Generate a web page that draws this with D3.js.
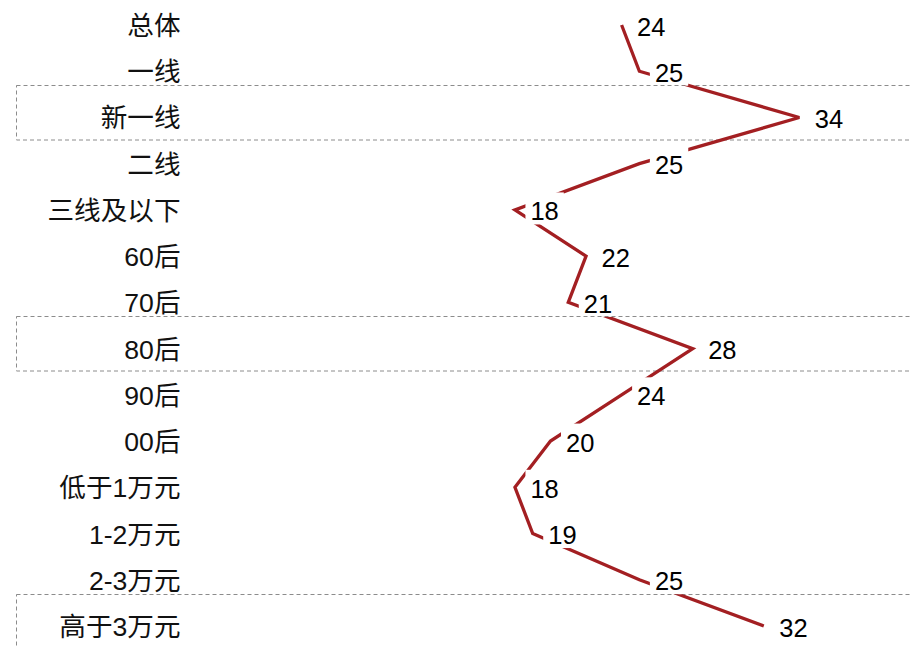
<!DOCTYPE html>
<html>
<head>
<meta charset="utf-8">
<script src="https://cdn.jsdelivr.net/npm/d3@7"></script>
<style>
  html, body { margin: 0; padding: 0; background: #fff; }
  svg { display: block; }
  text { font-family: "Liberation Sans", Arial, "Noto Sans CJK SC", sans-serif; }
</style>
</head>
<body>
<svg id="chart" width="912" height="647"></svg>
<script>
// ---- data ----
const categories = ["总体", "一线", "新一线", "二线", "三线及以下", "60后", "70后", "80后", "90后", "00后", "低于1万元", "1-2万元", "2-3万元", "高于3万元"];
const values = [24, 25, 34, 25, 18, 22, 21, 28, 24, 20, 18, 19, 25, 32];
const highlighted = ["新一线", "80后", "高于3万元"];

// ---- layout ----
const W = 912, H = 647;
const svg = d3.select("#chart");

const y = d3.scalePoint().domain(categories).range([25, 626]);
const x = d3.scaleLinear().domain([0, 40]).range([195, 906]);

const catFont = 26.6;
const valFont = 25.5;
const lineColor = "#a31f22";

const data = categories.map((c, i) => ({ cat: c, v: values[i] }));

// dashed highlight boxes
svg.append("g").selectAll("rect")
  .data(highlighted)
  .join("rect")
  .attr("x", 16.5)
  .attr("y", d => Math.round(y(d) - 32.5) + 0.5)
  .attr("width", 1000)
  .attr("height", 54.5)
  .attr("fill", "none")
  .attr("stroke", "#8c8c8c")
  .attr("stroke-width", 1)
  .attr("stroke-dasharray", "4,3");

// category labels
svg.append("g").selectAll("text")
  .data(data)
  .join("text")
  .attr("x", 180.5)
  .attr("y", d => y(d.cat) + 10)
  .attr("text-anchor", "end")
  .attr("font-size", catFont)
  .attr("fill", "#111")
  .text(d => d.cat);

// value labels (drawn first to measure widths)
const labelG = svg.append("g");
const labels = labelG.selectAll("text")
  .data(data)
  .join("text")
  .attr("x", d => x(d.v) + 15.5)
  .attr("y", d => y(d.cat) + 10.5)
  .attr("font-size", valFont)
  .attr("fill", "#000")
  .text(d => d3.format(".0f")(d.v));

// mask to knock the line out behind the labels
const defs = svg.append("defs");
const mask = defs.append("mask").attr("id", "lblMask")
  .attr("maskUnits", "userSpaceOnUse")
  .attr("x", 0).attr("y", 0).attr("width", W).attr("height", H);
mask.append("rect").attr("x", 0).attr("y", 0).attr("width", W).attr("height", H).attr("fill", "#fff");
labels.each(function(d) {
  const w = this.getComputedTextLength();
  const tx = x(d.v) + 15.5, by = y(d.cat) + 10.5;
  mask.append("rect")
    .attr("x", tx - 5)
    .attr("y", by - 28)
    .attr("width", w + 10)
    .attr("height", 32)
    .attr("fill", "#000");
});

// the line
const line = d3.line()
  .x(d => x(d.v))
  .y(d => y(d.cat));

svg.insert("path", "g:last-of-type")
  .datum(data)
  .attr("d", line)
  .attr("fill", "none")
  .attr("stroke", lineColor)
  .attr("stroke-width", 3.3)
  .attr("stroke-linejoin", "miter")
  .attr("stroke-miterlimit", 3)
  .attr("stroke-linecap", "butt")
  .attr("mask", "url(#lblMask)");
</script>
</body>
</html>
